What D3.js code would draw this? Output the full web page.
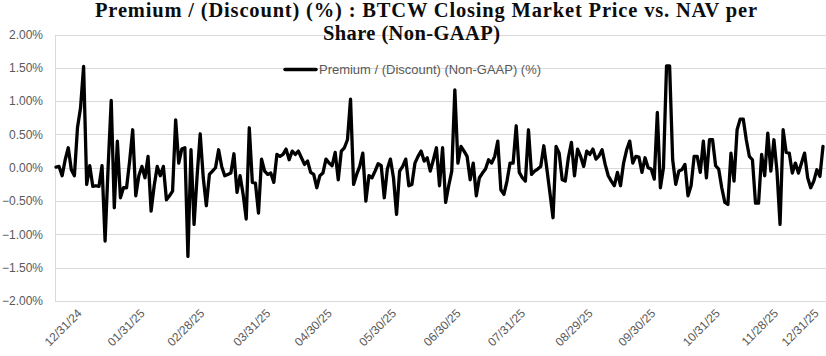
<!DOCTYPE html>
<html>
<head>
<meta charset="utf-8">
<script src="https://cdn.jsdelivr.net/npm/d3@7"></script>
<style>
  html, body { margin: 0; padding: 0; background: #fff; }
  svg { display: block; }
</style>
</head>
<body>
<svg id="chart" width="826" height="356"></svg>
<script>
// ---- Data ----
const titleLines = ["Premium / (Discount) (%) : BTCW Closing Market Price vs. NAV per", "Share (Non-GAAP)"];
const seriesName = "Premium / (Discount) (Non-GAAP) (%)";
const premium = [
  0.01, 0.02, -0.12, 0.12, 0.30, -0.03, -0.12, 0.60, 0.90, 1.52,
  -0.25, 0.03, -0.28, -0.27, -0.28, 0.03, -1.10, 0.02, 1.01, -0.60,
  0.40, -0.45, -0.30, -0.30, 0.10, 0.57, -0.42, -0.12, 0.02, -0.15,
  0.17, -0.65, -0.27, 0.02, -0.12, 0.02, -0.48, -0.42, -0.35, 0.72,
  0.07, 0.28, 0.30, -1.33, 0.27, -0.85, -0.12, 0.51, -0.15, -0.57,
  -0.10, -0.05, 0.00, 0.27, 0.02, -0.12, -0.10, -0.08, 0.21, -0.37,
  -0.12, -0.40, -0.77, 0.60, -0.22, -0.23, -0.68, 0.13, -0.05, -0.10,
  -0.08, -0.22, 0.20, 0.17, 0.20, 0.28, 0.12, 0.25, 0.20, 0.25,
  0.15, 0.05, 0.10, -0.07, -0.10, -0.30, -0.12, -0.08, 0.13, 0.07,
  0.03, 0.23, -0.18, 0.25, 0.30, 0.42, 1.03, -0.25, -0.10, 0.02,
  0.22, -0.50, -0.12, -0.15, -0.05, 0.06, 0.03, -0.45, -0.02, 0.13,
  -0.15, -0.70, -0.05, 0.02, 0.13, -0.27, -0.25, 0.07, 0.17, 0.25,
  0.10, 0.15, -0.05, 0.12, 0.30, -0.27, 0.30, -0.52, -0.27, -0.05,
  1.17, 0.07, 0.32, 0.25, 0.17, -0.18, 0.07, -0.42, -0.15, -0.08,
  -0.02, 0.12, 0.07, 0.17, 0.40, -0.33, -0.40, -0.20, 0.07, 0.07,
  0.63, -0.07, -0.15, -0.20, 0.57, -0.10, -0.05, -0.02, 0.02, 0.33,
  -0.02, -0.38, -0.75, 0.32, 0.22, -0.18, -0.20, 0.15, 0.38, -0.12,
  0.28, 0.17, 0.02, 0.25, 0.20, 0.28, 0.13, 0.18, 0.27, 0.05,
  -0.12, -0.20, -0.27, -0.07, -0.27, 0.07, 0.27, 0.40, 0.07, 0.17,
  0.16, -0.07, 0.15, 0.00, -0.02, -0.17, 0.83, -0.30, 0.00, 1.53,
  1.53, 0.12, -0.25, -0.05, -0.03, 0.05, -0.42, -0.27, 0.17, 0.17,
  -0.07, 0.40, -0.15, 0.42, 0.42, 0.03, -0.02, -0.30, -0.52, -0.55,
  0.22, -0.20, 0.57, 0.73, 0.73, 0.42, 0.17, 0.12, -0.53, -0.53,
  0.20, -0.12, 0.52, -0.05, 0.42, -0.05, -0.85, 0.57, 0.23, 0.22,
  -0.08, 0.07, -0.08, 0.07, 0.22, -0.15, -0.30, -0.20, -0.03, -0.13,
  0.32
];
const xTickLabels = ["12/31/24", "01/31/25", "02/28/25", "03/31/25", "04/30/25", "05/30/25", "06/30/25",
                     "07/31/25", "08/29/25", "09/30/25", "10/31/25", "11/28/25", "12/31/25"];
const xTickIndex = [8.5, 29, 48.5, 70, 90, 111, 132, 153, 175, 195.5, 216.5, 235.5, 248.7];
const yTicks = [-2.0, -1.5, -1.0, -0.5, 0.0, 0.5, 1.0, 1.5, 2.0];

// ---- Layout ----
const W = 826, H = 356;
const plotLeft = 55, plotRight = 826, plotTop = 34.5, plotBottom = 301;
const svg = d3.select("#chart");

const x = d3.scaleLinear().domain([0, premium.length - 1]).range([56, 823]);
const y = d3.scaleLinear().domain([-2, 2]).range([plotBottom, plotTop]);

// gridlines
svg.append("g").selectAll("line").data(yTicks).join("line")
  .attr("x1", plotLeft).attr("x2", plotRight)
  .attr("y1", d => Math.round(y(d)) + 0.5).attr("y2", d => Math.round(y(d)) + 0.5)
  .attr("stroke", "#d9d9d9").attr("stroke-width", 1);

// left axis line
svg.append("line")
  .attr("x1", plotLeft + 0.5).attr("x2", plotLeft + 0.5)
  .attr("y1", Math.round(y(2)) + 0.5).attr("y2", Math.round(y(-2)) + 0.5)
  .attr("stroke", "#d9d9d9").attr("stroke-width", 1);

// y axis labels
const yAxis = d3.axisLeft(y).tickValues(yTicks).tickSize(0).tickPadding(0)
  .tickFormat(d => d3.format(".2f")(d) + "%");
const yg = svg.append("g").attr("transform", `translate(43,0)`).call(yAxis);
yg.select(".domain").remove();
yg.selectAll("text").attr("font-family", "Liberation Sans, Arial, sans-serif")
  .attr("font-size", 12).attr("fill", "#595959");

// x axis labels
const xAxis = d3.axisBottom(x).tickValues(xTickIndex).tickSize(0).tickPadding(0)
  .tickFormat((d, i) => xTickLabels[i]);
const xg = svg.append("g").attr("transform", `translate(0,${plotBottom})`).call(xAxis);
xg.select(".domain").remove();
xg.selectAll("text")
  .attr("font-family", "Liberation Sans, Arial, sans-serif")
  .attr("font-size", 12).attr("fill", "#595959")
  .attr("text-anchor", "end")
  .attr("dy", 0).attr("y", 0)
  .attr("transform", "translate(0,13) rotate(-45)");

// line
const line = d3.line().x((d, i) => x(i)).y(d => y(d));
svg.append("path").datum(premium)
  .attr("d", line).attr("fill", "none")
  .attr("stroke", "#000").attr("stroke-width", 3.3)
  .attr("stroke-linejoin", "round").attr("stroke-linecap", "round");

// legend
svg.append("line").attr("x1", 285).attr("x2", 316).attr("y1", 69.5).attr("y2", 69.5)
  .attr("stroke", "#000").attr("stroke-width", 3.5).attr("stroke-linecap", "round");
svg.append("text").attr("x", 319).attr("y", 74)
  .attr("font-family", "Liberation Sans, Arial, sans-serif").attr("font-size", 13)
  .attr("fill", "#595959").attr("textLength", 222).attr("lengthAdjust", "spacingAndGlyphs")
  .text(seriesName);

// title
svg.append("text").attr("x", 95).attr("y", 17)
  .attr("font-family", "Liberation Serif, Times New Roman, serif")
  .attr("font-weight", "bold").attr("font-size", 20.5).attr("fill", "#0d0d0d")
  .attr("textLength", 662).attr("lengthAdjust", "spacing")
  .text(titleLines[0]);
svg.append("text").attr("x", 323).attr("y", 40)
  .attr("font-family", "Liberation Serif, Times New Roman, serif")
  .attr("font-weight", "bold").attr("font-size", 20.5).attr("fill", "#0d0d0d")
  .attr("textLength", 177).attr("lengthAdjust", "spacing")
  .text(titleLines[1]);
</script>
</body>
</html>
